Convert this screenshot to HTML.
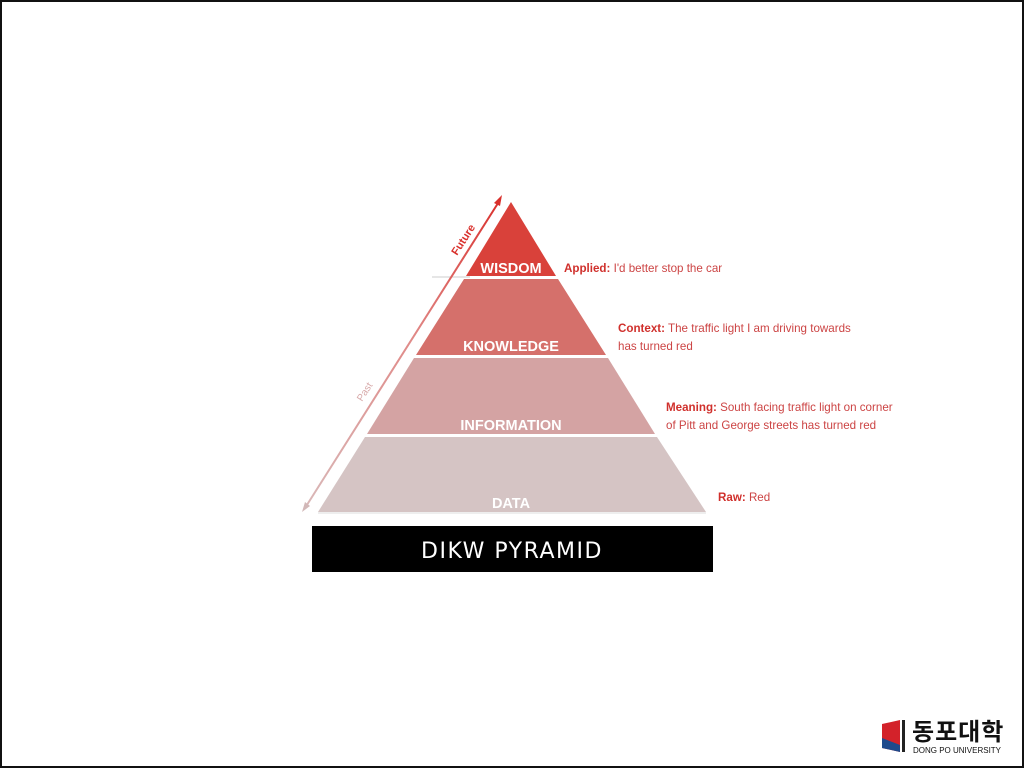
<!DOCTYPE html>
<html><head><style>
html,body{margin:0;padding:0;background:#fff}
body{width:1024px;height:768px;position:relative;overflow:hidden;font-family:"Liberation Sans",sans-serif}
.frame{position:absolute;left:0;top:0;width:1020px;height:764px;border:2px solid #111}
.t{position:absolute;font-size:11.6px;color:#d0302c;line-height:18px;white-space:nowrap}
.t b{color:#d0302c}
.t span{color:#c44}
</style></head><body>
<div class="frame"></div>
<svg width="1024" height="768" style="position:absolute;left:0;top:0">
<polygon points="511,202 556,276 466,276" fill="#d9413a"/>
<polygon points="464,279 558,279 606,355 416,355" fill="#d5706b"/>
<polygon points="414,358 608,358 655,434 367,434" fill="#d4a3a3"/>
<polygon points="365,437 657,437 706,512 318,512" fill="#d5c4c4"/>
<line x1="318" y1="513" x2="706" y2="513" stroke="#ddd" stroke-width="1"/>
<line x1="432" y1="277" x2="470" y2="277" stroke="#ccc" stroke-width="1"/>
<defs><linearGradient id="g" x1="0" y1="1" x2="0" y2="0">
<stop offset="0" stop-color="#d9b8b8"/><stop offset="0.55" stop-color="#e08a88"/><stop offset="1" stop-color="#d9302c"/></linearGradient></defs>
<line x1="305" y1="508" x2="500" y2="200" stroke="url(#g)" stroke-width="2"/>
<polygon points="502,195 494,203 500,206" fill="#d9302c"/>
<polygon points="302,512 305,502 310,506" fill="#d2b8b8"/>
<text x="457" y="256" transform="rotate(-57 457 256)" font-family="Liberation Sans" font-weight="bold" font-size="11" fill="#d9302c">Future</text>
<text x="362" y="402" transform="rotate(-57 362 402)" font-family="Liberation Sans" font-size="10" fill="#d8aaaa">Past</text>
<g font-family="Liberation Sans" font-weight="bold" fill="#fff" text-anchor="middle">
<text x="511" y="273" font-size="14.5">WISDOM</text>
<text x="511" y="351" font-size="14.5">KNOWLEDGE</text>
<text x="511" y="430" font-size="14.5">INFORMATION</text>
<text x="511" y="508" font-size="14.5">DATA</text>
</g>
<rect x="312" y="526" width="401" height="46" fill="#000"/>
<text x="512" y="558" text-anchor="middle" font-family="DejaVu Sans" font-size="22" fill="#fff" letter-spacing="1.5">DIKW PYRAMID</text>
<polygon points="882,724 900,720 900,752 882,748" fill="#d3222a"/>
<polygon points="882,738 900,745 900,752 882,748" fill="#1f4a8c"/>
<rect x="902" y="720" width="3" height="32" fill="#222"/>
</svg>
<div class="t" style="left:564px;top:260px"><b>Applied:</b> <span>I'd better stop the car</span></div>
<div class="t" style="left:618px;top:320px"><b>Context:</b> <span>The traffic light I am driving towards<br>has turned red</span></div>
<div class="t" style="left:666px;top:399px"><b>Meaning:</b> <span>South facing traffic light on corner<br>of Pitt and George streets has turned red</span></div>
<div class="t" style="left:718px;top:489px"><b>Raw:</b> <span>Red</span></div>
<div style="position:absolute;left:912px;top:716px;font-family:'Noto Sans CJK KR',sans-serif;font-weight:bold;font-size:24px;line-height:28px;color:#111;letter-spacing:1px">동포대학</div>
<div style="position:absolute;left:913px;top:746px;font-size:8px;color:#111">DONG PO UNIVERSITY</div>
</body></html>
